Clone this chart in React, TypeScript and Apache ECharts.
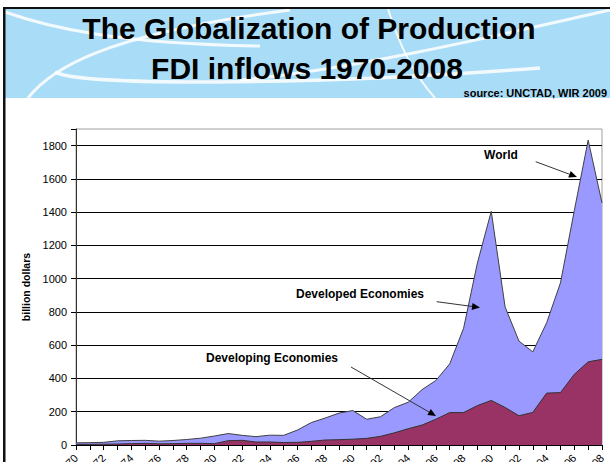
import React, { useEffect, useRef } from 'react';
import * as echarts from 'echarts';

const years = [
  '1970', '1971', '1972', '1973', '1974', '1975', '1976', '1977', '1978', '1979',
  '1980', '1981', '1982', '1983', '1984', '1985', '1986', '1987', '1988', '1989',
  '1990', '1991', '1992', '1993', '1994', '1995', '1996', '1997', '1998', '1999',
  '2000', '2001', '2002', '2003', '2004', '2005', '2006', '2007', '2008',
];

// FDI inflows, billion dollars
const worldInflows = [
  13, 14, 16, 25, 27, 28, 23, 27, 33, 41,
  54, 69, 58, 50, 59, 58, 90, 135, 162, 192,
  207, 155, 170, 225, 257, 333, 388, 488, 702, 1095,
  1405, 830, 625, 560, 735, 975, 1410, 1833, 1455,
];

const developingInflows = [
  4, 4, 5, 6, 8, 10, 7, 8, 10, 10,
  8, 26, 28, 18, 18, 15, 16, 22, 30, 32,
  35, 40, 52, 73, 98, 120, 155, 195, 195, 237,
  268, 226, 176, 196, 312, 315, 425, 500, 515,
];

const titleLine1 = 'The Globalization of Production';
const titleLine2 = 'FDI inflows 1970-2008';
const sourceText = 'source: UNCTAD, WIR 2009';
const yAxisName = 'billion dollars';

const FONT = '"Liberation Sans", Arial, sans-serif';

function arrow(x1: number, y1: number, x2: number, y2: number) {
  const headLen = 8;
  const headW = 3.5;
  const dx = x2 - x1;
  const dy = y2 - y1;
  const L = Math.hypot(dx, dy);
  const ux = dx / L;
  const uy = dy / L;
  const bx = x2 - ux * headLen;
  const by = y2 - uy * headLen;
  const px = -uy;
  const py = ux;
  return [
    {
      type: 'line',
      z: 100,
      shape: { x1, y1, x2: bx, y2: by },
      style: { stroke: '#333', lineWidth: 1 },
    },
    {
      type: 'polygon',
      z: 100,
      shape: {
        points: [
          [x2, y2],
          [bx + px * headW, by + py * headW],
          [bx - px * headW, by - py * headW],
        ],
      },
      style: { fill: '#000' },
    },
  ];
}

function curve(x1: number, y1: number, c1x: number, c1y: number, c2x: number, c2y: number, x2: number, y2: number, w: number) {
  return {
    type: 'bezierCurve',
    z: 1,
    shape: { x1, y1, cpx1: c1x, cpy1: c1y, cpx2: c2x, cpy2: c2y, x2, y2 },
    style: { stroke: 'rgba(255,255,255,0.85)', lineWidth: w, fill: 'none' },
  };
}

function label(text: string, x: number, y: number, size: number, align: string = 'center') {
  return {
    type: 'text',
    z: 100,
    x,
    y,
    style: {
      text,
      fontFamily: FONT,
      fontWeight: 'bold',
      fontSize: size,
      fill: '#000',
      align,
      verticalAlign: 'middle',
    },
  };
}

export default function App() {
  const ref = useRef<HTMLDivElement>(null);

  useEffect(() => {
    if (!ref.current) return;
    const chart = echarts.init(ref.current, null, { renderer: 'svg' });

    const graphics: any[] = [
      // frame + banner
      { type: 'rect', z: 0, shape: { x: 5, y: 9, width: 605, height: 89 }, style: { fill: '#a9dcf6' } },
      { type: 'rect', z: 2, shape: { x: 3, y: 7, width: 607, height: 2 }, style: { fill: '#111' } },
      { type: 'rect', z: 2, shape: { x: 3, y: 7, width: 2.5, height: 455 }, style: { fill: '#111' } },
      curve(5, 12, 50, 28, 120, 44, 260, 46, 3),
      curve(28, 98, 50, 70, 100, 35, 290, 10, 3),
      curve(55, 72, 80, 86, 300, 86, 540, 68, 3.5),
      curve(240, 80, 350, 70, 500, 35, 610, 10, 3),
      curve(388, 9, 398, 40, 410, 70, 435, 98, 2),
      label(titleLine1, 309, 28.5, 30),
      label(titleLine2, 307, 68.5, 30),
      label(sourceText, 607, 92.5, 11, 'right'),
      // annotations
      label('World', 501, 154.5, 12),
      ...arrow(535.7, 161.7, 577, 177),
      label('Developed Economies', 360, 293.5, 12),
      ...arrow(436.7, 301.7, 480, 307.5),
      label('Developing Economies', 272, 357.5, 12),
      ...arrow(351, 367, 436, 416),
    ];

    chart.setOption({
      animation: false,
      backgroundColor: '#ffffff',
      textStyle: { fontFamily: FONT },
      grid: {
        left: 76,
        right: 8,
        top: 129,
        bottom: 17,
        containLabel: false,
        outerBoundsMode: 'none',
        show: true,
        borderColor: '#a0a0a0',
        borderWidth: 1,
        backgroundColor: 'transparent',
      },
      xAxis: {
        type: 'category',
        data: years,
        boundaryGap: false,
        z: 3,
        axisLine: { lineStyle: { color: '#000', width: 1 } },
        axisTick: { show: true, interval: 0, length: 5, lineStyle: { color: '#000' } },
        axisLabel: { interval: 1, rotate: 45, fontSize: 11, color: '#000', margin: 11, fontFamily: FONT },
        splitLine: { show: false },
      },
      yAxis: {
        type: 'value',
        min: 0,
        max: 1900,
        interval: 200,
        name: yAxisName,
        nameLocation: 'middle',
        nameGap: 32,
        nameRotate: 90,
        nameTextStyle: { fontWeight: 'bold', fontSize: 10.5, color: '#000', fontFamily: FONT },
        axisLine: { show: true, lineStyle: { color: '#333' } },
        axisTick: { show: true, length: 5, lineStyle: { color: '#000' } },
        axisLabel: {
          fontSize: 11,
          color: '#000',
          margin: 9,
          fontFamily: FONT,
          formatter: (v: number) => (v % 200 === 0 ? String(v) : ''),
        },
        splitLine: { show: true, showMaxLine: false, lineStyle: { color: '#000', width: 1 } },
      },
      series: [
        {
          name: 'World',
          type: 'line',
          data: worldInflows,
          symbol: 'none',
          z: 2,
          lineStyle: { color: '#404040', width: 1 },
          areaStyle: { color: '#9999ff', opacity: 1 },
        },
        {
          name: 'Developing Economies',
          type: 'line',
          data: developingInflows,
          symbol: 'none',
          z: 2,
          lineStyle: { color: '#333', width: 1 },
          areaStyle: { color: '#993366', opacity: 1 },
        },
      ],
      graphic: graphics,
    });

    return () => chart.dispose();
  }, []);

  return (
    <div
      ref={ref}
      style={{ position: 'fixed', left: 0, top: 0, width: 610, height: 462 }}
    />
  );
}
